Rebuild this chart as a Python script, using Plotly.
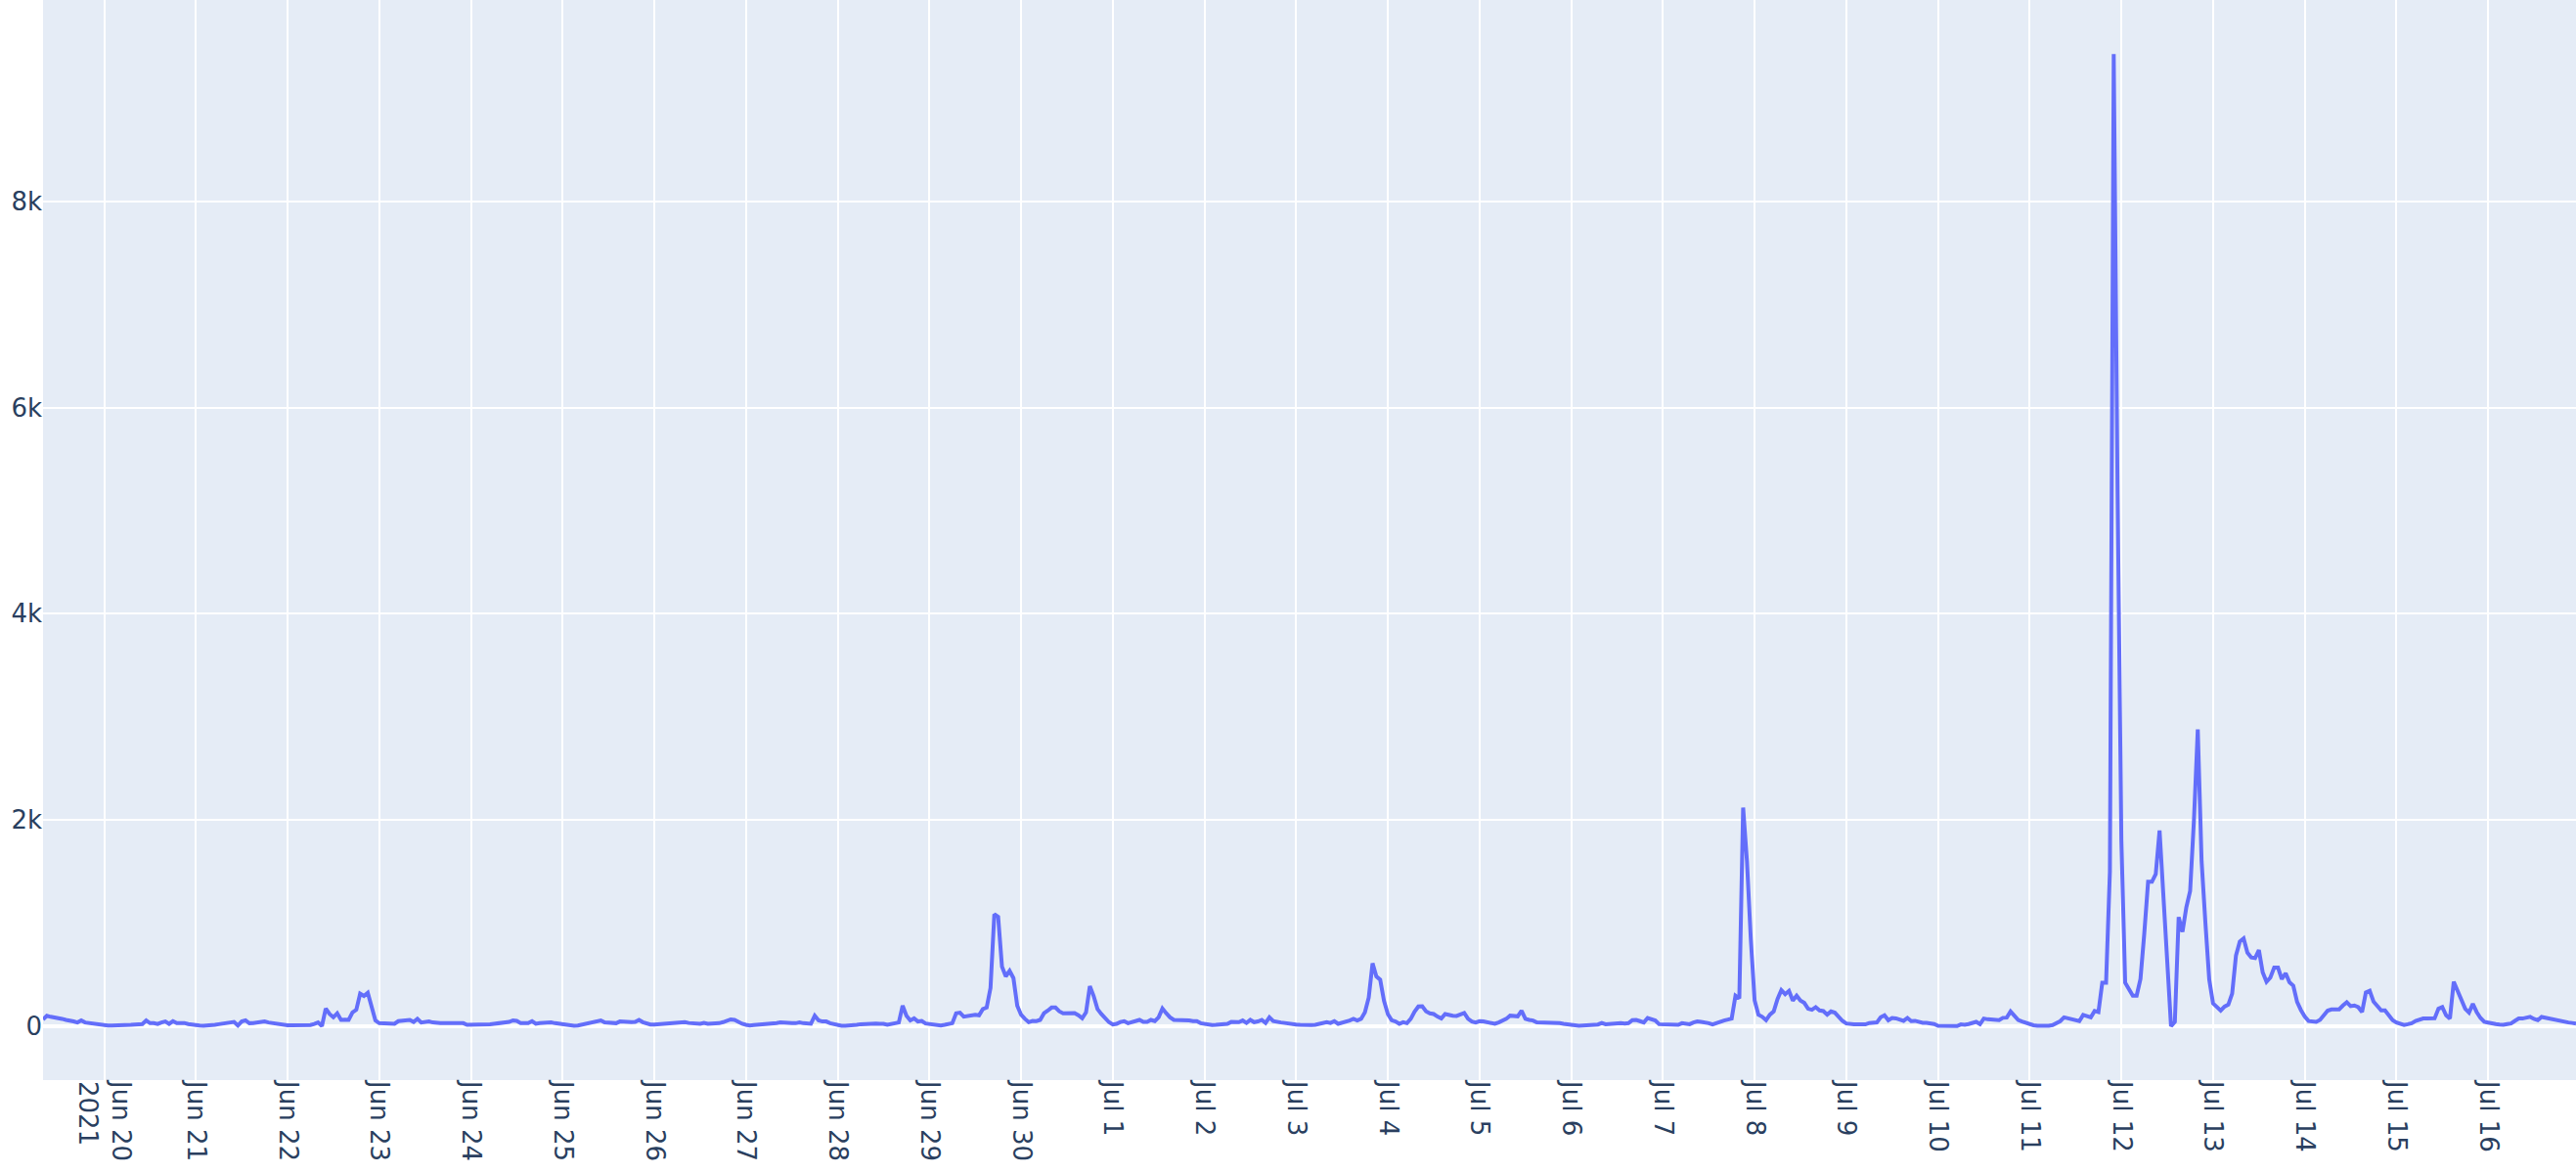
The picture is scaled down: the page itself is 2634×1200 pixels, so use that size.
import pandas as pd
import plotly.graph_objects as go

# Hourly values, starting 2021-06-19 08:00
jun19 = [65,100,90,85,75,70,60,55,45,35,55,35,30,20,15,10]
jun20 = [5,5,5,5,8,8,10,12,15,20,20,55,28,28,20,35,45,22,48,28,30,30,20,12]
jun21 = [5,5,3,3,5,12,18,22,28,35,40,5,45,55,28,30,35,40,45,35,30,25,12,12]
jun22 = [8,8,8,8,8,8,10,20,35,0,170,117,85,124,60,63,60,133,158,314,292,323,180,55]
jun23 = [28,25,25,22,22,48,50,57,60,40,70,35,38,45,35,30,30,30,30,33,35,33,28,12]
jun24 = [12,10,10,10,15,18,22,25,28,35,40,55,50,30,28,28,48,22,28,30,35,35,28,22]
jun25 = [15,12,10,3,5,12,22,30,38,48,55,35,35,30,28,45,40,40,38,40,60,38,22,15]
jun26 = [15,18,18,18,22,22,25,28,38,30,28,28,22,30,22,25,25,28,38,55,65,60,40,22]
jun27 = [12,5,10,12,15,15,22,28,30,35,30,25,28,28,35,28,28,22,100,55,45,45,28,18]
jun28 = [5,3,3,3,5,12,18,22,22,25,25,22,22,12,18,30,35,197,100,55,75,45,50,25]
jun29 = [22,15,10,5,12,22,28,124,130,92,98,108,110,105,165,180,370,1085,1060,577,482,535,466,197]
jun30 = [110,70,38,50,48,60,124,150,180,180,143,124,124,124,127,105,76,133,387,292,165,117,80,38]
jul01 = [15,22,40,48,28,38,48,60,40,40,60,48,85,170,124,85,60,60,60,60,54,48,48,28]
jul02 = [22,12,10,12,15,15,22,40,38,38,54,30,60,38,45,60,30,85,48,38,35,30,28,22]
jul03 = [15,12,10,5,10,12,18,28,38,30,48,22,30,40,54,70,54,70,133,276,609,482,450,244]
jul04 = [117,57,45,22,38,28,70,140,190,193,143,124,117,92,73,117,105,101,98,110,127,70,45,35]
jul05 = [48,45,38,30,22,35,48,70,101,95,95,149,70,60,54,35,35,35,35,35,30,28,22,18]
jul06 = [15,3,3,5,10,10,12,15,30,18,22,25,28,28,25,28,57,60,48,35,79,63,54,18]
jul07 = [15,15,12,12,12,28,22,18,35,45,40,38,28,15,30,40,54,63,73,295,270,2120,1600,850]
jul08 = [250,110,90,57,111,142,263,348,310,342,247,295,247,225,168,158,184,152,146,111,142,130,90,50]
jul09 = [25,16,16,16,16,16,30,35,35,85,105,57,79,75,60,51,79,48,51,40,32,32,28,20]
jul10 = [3,3,0,0,0,0,16,12,20,30,41,19,73,66,63,60,57,80,82,142,100,60,45,32]
jul11 = [16,8,3,0,0,3,10,30,48,85,75,66,55,48,108,100,85,146,136,421,421,1500,9430,5200]
jul12 = [1800,420,360,294,294,456,900,1400,1400,1475,1897,1280,675,0,41,1057,915,1152,1310,2000,2877,1600,1000,450]
jul13 = [220,180,150,189,208,315,685,820,850,712,665,660,737,520,430,470,567,567,456,513,424,392,234,155]
jul14 = [92,49,45,41,60,100,150,162,162,162,200,231,193,200,184,136,326,342,238,193,152,152,100,57]
jul15 = [35,20,10,18,28,50,60,73,73,73,75,168,184,105,73,430,342,263,168,130,215,136,79,41]
jul16 = [32,19,19,15,12,20,25,50,73,73,80,89,70,57,89,80,79,70,57,45,41,35,30,25]

start_time = "2021-06-19 08:00"
days = [jun19, jun20, jun21, jun22, jun23, jun24, jun25, jun26, jun27, jun28, jun29, jun30,
        jul01, jul02, jul03, jul04, jul05, jul06, jul07, jul08, jul09, jul10, jul11, jul12,
        jul13, jul14, jul15, jul16]
values = [v for d in days for v in d]
times = pd.date_range(start_time, periods=len(values), freq="h")

fig = go.Figure(go.Scatter(x=times, y=values, mode="lines",
                           line=dict(color="#636efa", width=4)))

fig.update_layout(
    template="plotly",
    width=2634, height=1200,
    margin=dict(l=44, r=0, t=0, b=96, pad=0),
    font=dict(family="DejaVu Sans, verdana, arial, sans-serif", size=26, color="#2a3f5f"),
    plot_bgcolor="#E5ECF6",
    paper_bgcolor="white",
    showlegend=False,
)
fig.update_xaxes(dtick=86400000, tick0="2021-06-20", tickangle=90,
                 gridcolor="white", gridwidth=2, automargin=False)
fig.update_yaxes(dtick=2000, gridcolor="white", gridwidth=2,
                 zerolinecolor="white", zerolinewidth=4, automargin=False)

fig.write_html("out.html", config={"displayModeBar": False},
               post_script="document.body.style.margin='0';document.body.style.overflow='hidden';")
